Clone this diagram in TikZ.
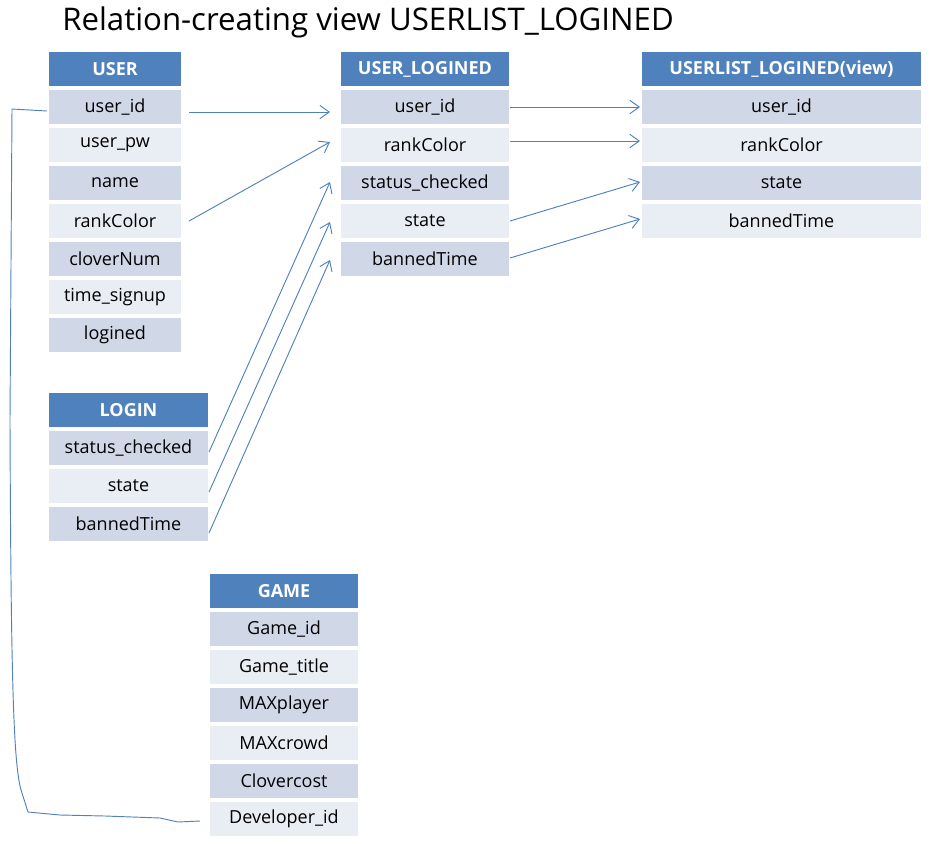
\documentclass[tikz,border=0pt]{standalone}
\usepackage{fontspec}
\setmainfont{Open Sans}
\usetikzlibrary{calc,arrows.meta}
\definecolor{hdrc}{HTML}{4F81BD}
\definecolor{rowA}{HTML}{D0D8E8}
\definecolor{rowB}{HTML}{E9EDF4}
\definecolor{linec}{HTML}{4F81BD}
\tikzset{
  cell/.style={anchor=north west, minimum height=34*0.75pt, inner sep=0pt, outer sep=0pt, font=\fontsize{13.5}{16}\selectfont},
  hdr/.style={cell, fill=hdrc, text=white, font=\fontsize{13.5}{16}\selectfont\bfseries},
  conn/.style={draw=linec, line width=0.7pt},
  arr/.style={conn, -{Straight Barb[length=7pt,width=10pt,line width=0.7pt]}},
}
\newcommand\mktable[6]{%
  \node[hdr, minimum width=#4*0.75pt] (#1-h) at (#2,#3) {#5};
  \foreach \t [count=\i] in {#6}{%
    \ifodd\i\def\fc{rowA}\else\def\fc{rowB}\fi
    \node[cell, fill=\fc, minimum width=#4*0.75pt] (#1-\i) at (#2,#3+\i*38) {\t};
  }%
}
\begin{document}
\begin{tikzpicture}[x=0.75pt,y=-0.75pt]
\useasboundingbox (0,0) rectangle (939,843);
\node[anchor=base west, inner sep=0pt, font=\fontsize{23.4}{28}\selectfont] (title) at (62,30) {Relation-creating view USERLIST\_LOGINED};
\mktable{U}{49}{52}{132}{USER}{user\_id,user\_pw,name,rankColor,cloverNum,time\_signup,logined}
\mktable{UL}{341}{52}{168}{USER\_LOGINED}{user\_id,rankColor,status\_checked,state,bannedTime}
\mktable{V}{642}{52}{279}{USERLIST\_LOGINED(view)}{user\_id,rankColor,state,bannedTime}
\mktable{L}{49}{393}{159}{LOGIN}{status\_checked,state,bannedTime}
\mktable{G}{210}{574}{148}{GAME}{Game\_id,Game\_title,MAXplayer,MAXcrowd,Clovercost,Developer\_id}
% arrows
\draw[arr] ($(U-1.east)+(8,5)$) -- ($(UL-1.west)+(-11,5)$);
\draw[arr] ($(U-4.east)+(8,0)$) -- ($(UL-2.west)+(-11,-3)$);
\draw[arr] ($(L-1.east)+(1,4)$) -- ($(UL-3.west)+(-11,-1)$);
\draw[arr] ($(L-2.east)+(1,6)$) -- ($(UL-4.west)+(-11,1)$);
\draw[arr] ($(L-3.east)+(1,9)$) -- ($(UL-5.west)+(-11,1)$);
\draw[arr] ($(UL-1.east)+(1,0)$) -- ($(V-1.west)+(-2,0)$);
\draw[arr] ($(UL-2.east)+(1,-4)$) -- ($(V-2.west)+(-2,-4)$);
\draw[arr] ($(UL-4.east)+(1,0)$) -- ($(V-3.west)+(-2,-1)$);
\draw[arr] ($(UL-5.east)+(1,-1)$) -- ($(V-4.west)+(-2,-2)$);
% left connector
\coordinate (c1) at (12,109);
\coordinate (c2) at (10,420);
\coordinate (c3) at (22,793);
\coordinate (c4) at (28,812);
\draw[conn] ($(U-1.west)+(-2,4)$) -- (c1) -- (c2)
  .. controls (11,700) and (14,770) .. (c3) -- (c4)
  -- (60,815) -- (105,816) -- (160,818) -- (178,822) -- ($(G-6.west)+(-10,2)$);
\end{tikzpicture}
\end{document}
